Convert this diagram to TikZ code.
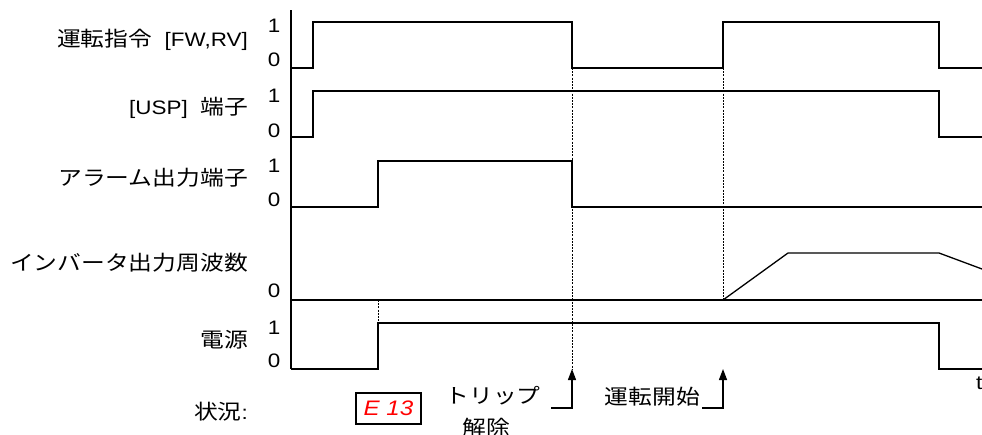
\documentclass[tikz,border=0pt]{standalone}
\usepackage{fontspec}
\setmainfont{Liberation Sans}[FakeStretch=1.15]
\newfontfamily\jp{Noto Sans CJK JP}[FakeStretch=1.15,Scale=1.06]
\usetikzlibrary{arrows.meta,positioning}

\begin{document}
\begin{tikzpicture}[
    x=1pt, y=-1pt,
    font=\fontsize{19.5}{22}\selectfont,
    rowlabel/.style={anchor=east, inner sep=0pt},
    level/.style={inner sep=0pt},
    signal/.style={line width=1.3pt, line join=miter},
    guide/.style={line width=0.6pt, dash pattern=on 2pt off 1.2pt},
    arrow/.style={-{Triangle[length=11pt, width=8pt]}, line width=1.3pt},
    codebox/.style={draw, line width=1.3pt, minimum width=65pt, minimum height=31pt,
                inner sep=0pt, text=red, font=\fontsize{21}{21}\selectfont\itshape}
]
\useasboundingbox (0,0) rectangle (982,434);

\node[rowlabel] (cmd) at (248,40) {{\jp 運転指令}~~[FW,RV]};
\node[rowlabel] (usp) at (248,108) {[USP]~~{\jp 端子}};
\node[rowlabel] (alarm) at (248,178) {\jp アラーム出力端子};
\node[rowlabel] (freq) at (248,263) {\jp インバータ出力周波数};
\node[rowlabel] (power) at (248,340) {\jp 電源};
\node[rowlabel] (status) at (248,412) {{\jp 状況}:};

\node[level] (cmdhi) at (274,26) {1};
\node[level] (cmdlo) at (274,60) {0};
\node[level] (usphi) at (274,96) {1};
\node[level] (usplo) at (274,131) {0};
\node[level] (alarmhi) at (274,166) {1};
\node[level] (alarmlo) at (274,200) {0};
\node[level] (freqlo) at (274,291) {0};
\node[level] (powerhi) at (274,328) {1};
\node[level] (powerlo) at (274,361) {0};

\draw[signal] (291,10) -- (291,369);

\draw[signal] (291,68) -- (313,68) -- (313,22) -- (572,22) -- (572,68) -- (723,68)
    -- (723,22) -- (939,22) -- (939,68) -- (982,68);
\draw[signal] (291,137) -- (313,137) -- (313,91) -- (939,91) -- (939,137) -- (982,137);
\draw[signal] (291,207) -- (378,207) -- (378,161) -- (572,161) -- (572,207) -- (982,207);
\draw[signal] (291,300) -- (982,300);
\draw[signal] (723,300) -- (788,253) -- (939,253) -- (982,269);
\draw[signal] (291,369) -- (378,369) -- (378,323) -- (939,323) -- (939,369) -- (982,369);

\draw[guide] (572,68) -- (572,369);
\draw[guide] (723,68) -- (723,300);
\draw[guide] (378,300) -- (378,323);

\coordinate (trip) at (572,369);
\coordinate (tripfoot) at (551,408);
\coordinate (start) at (723,369);
\coordinate (startfoot) at (702,408);
\draw[arrow] (tripfoot) -| (trip);
\draw[arrow] (startfoot) -| (start);

\node[codebox] (code) at (388.5,408.5) {E 13};
\node[inner sep=0pt] (triplabel) at (493,396) {\jp トリップ};
\node[inner sep=0pt] (resetlabel) at (486,428) {\jp 解除};
\node[anchor=east, inner sep=0pt] (startlabel) at (700,397) {\jp 運転開始};
\node[anchor=west, inner sep=0pt] (tlabel) at (976,383) {t};
\end{tikzpicture}
\end{document}
